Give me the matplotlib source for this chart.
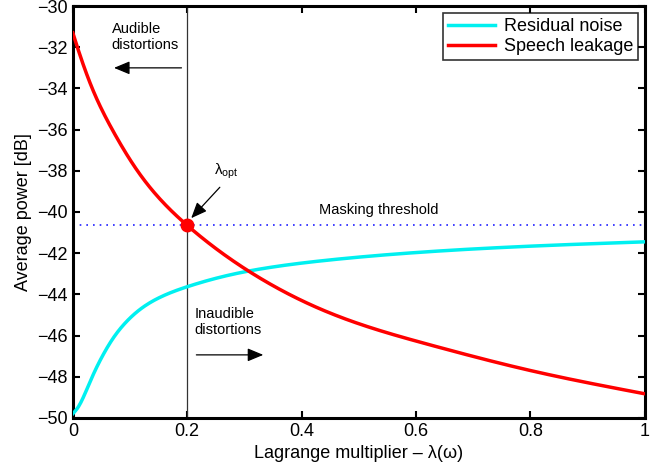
import matplotlib
matplotlib.use("Agg")
import matplotlib.pyplot as plt
import numpy as np

plt.rcParams['font.family'] = ['Liberation Sans', 'DejaVu Sans']

# Data
lam_s = [0.0, 0.008, 0.034, 0.069, 0.113, 0.2, 0.309, 0.449, 0.624, 0.8, 1.0]
speech_leakage = [-31.3, -32.0, -34.0, -36.0, -38.0, -40.65, -42.9, -44.9, -46.45, -47.7, -48.83]
lam_n = [0.0, 0.01, 0.02, 0.035, 0.0525, 0.07, 0.093, 0.122, 0.152, 0.2, 0.274, 0.35, 0.449, 0.6, 0.8, 1.0]
residual_noise = [-49.8, -49.45, -48.9, -47.94, -46.96, -46.15, -45.35, -44.64, -44.15, -43.63, -43.06, -42.67, -42.33, -41.97, -41.66, -41.45]
masking_threshold = -40.65
lam_opt = 0.2

xticks = [0, 0.2, 0.4, 0.6, 0.8, 1]
xticklabels = ['0', '0.2', '0.4', '0.6', '0.8', '1']
yticks = list(range(-50, -29, 2))

fig = plt.figure(figsize=(6.62, 4.69), dpi=100)
ax = fig.add_axes([0.110, 0.109, 0.864, 0.878])


def natural_spline(x, y, n=500):
    """Smooth (C2) curve through the read points."""
    x = np.asarray(x, float); y = np.asarray(y, float)
    N = len(x)
    h = np.diff(x)
    A = np.zeros((N, N)); r = np.zeros(N)
    A[0, 0] = 1; A[-1, -1] = 1
    for i in range(1, N - 1):
        A[i, i-1] = h[i-1]; A[i, i] = 2*(h[i-1] + h[i]); A[i, i+1] = h[i]
        r[i] = 6*((y[i+1] - y[i])/h[i] - (y[i] - y[i-1])/h[i-1])
    M = np.linalg.solve(A, r)
    xs = np.linspace(x[0], x[-1], n)
    idx = np.clip(np.searchsorted(x, xs) - 1, 0, N - 2)
    x0 = x[idx]; x1 = x[idx+1]; hh = h[idx]
    ys = (M[idx]*(x1 - xs)**3/(6*hh) + M[idx+1]*(xs - x0)**3/(6*hh)
          + (y[idx]/hh - M[idx]*hh/6)*(x1 - xs) + (y[idx+1]/hh - M[idx+1]*hh/6)*(xs - x0))
    return xs, ys


xs, ys = natural_spline(lam_n, residual_noise)
ax.plot(xs, ys, color='#00f0f0', lw=2.5, label='Residual noise', zorder=3)
xs, ys = natural_spline(lam_s, speech_leakage)
ax.plot(xs, ys, color='#ff0000', lw=2.5, label='Speech leakage', zorder=3)

ax.axhline(masking_threshold, color='#2020ff', lw=1.2, ls=(0, (1, 3)), zorder=2)
ax.axvline(lam_opt, color='#333333', lw=0.9, zorder=2)
ax.plot([lam_opt], [masking_threshold], 'o', color='#ff0000', ms=9, zorder=4)

ax.set_xlim(0, 1)
ax.set_ylim(-50, -30)
ax.set_xticks(xticks)
ax.set_xticklabels(xticklabels)
ax.set_yticks(yticks)
ax.tick_params(direction='in', top=True, right=True, length=5, width=1.5, labelsize=13)
for s in ax.spines.values():
    s.set_linewidth(2.2)

ax.set_xlabel('Lagrange multiplier – λ(ω)', fontsize=13, labelpad=4)
ax.set_ylabel('Average power [dB]', fontsize=13, labelpad=4)

arrow_kw = dict(arrowstyle='-|>,head_length=0.6,head_width=0.25', color='black', lw=0.9,
                mutation_scale=16, shrinkA=0, shrinkB=0)
ax.text(0.068, -30.75, 'Audible\ndistortions', fontsize=10.5, va='top', ha='left', linespacing=1.2)
ax.annotate('', xy=(0.072, -33.0), xytext=(0.19, -33.0), arrowprops=arrow_kw)
ax.text(0.213, -44.6, 'Inaudible\ndistortions', fontsize=10.5, va='top', ha='left', linespacing=1.2)
ax.annotate('', xy=(0.333, -46.94), xytext=(0.216, -46.94), arrowprops=arrow_kw)
ax.text(0.247, -38.05, r'$\mathregular{\lambda_{opt}}$', fontsize=11, va='center', ha='left')
ax.annotate('', xy=(0.207, -40.3), xytext=(0.257, -38.8), arrowprops=arrow_kw)
ax.text(0.535, -40.25, 'Masking threshold', fontsize=10.5, va='bottom', ha='center')

leg = ax.legend(loc='upper right', fontsize=13, frameon=True, fancybox=False,
                edgecolor='black', borderaxespad=0.4, handlelength=2.6,
                borderpad=0.25, labelspacing=0.2, handletextpad=0.5)
leg.get_frame().set_linewidth(1.2)

fig.savefig('out.png', dpi=100)
